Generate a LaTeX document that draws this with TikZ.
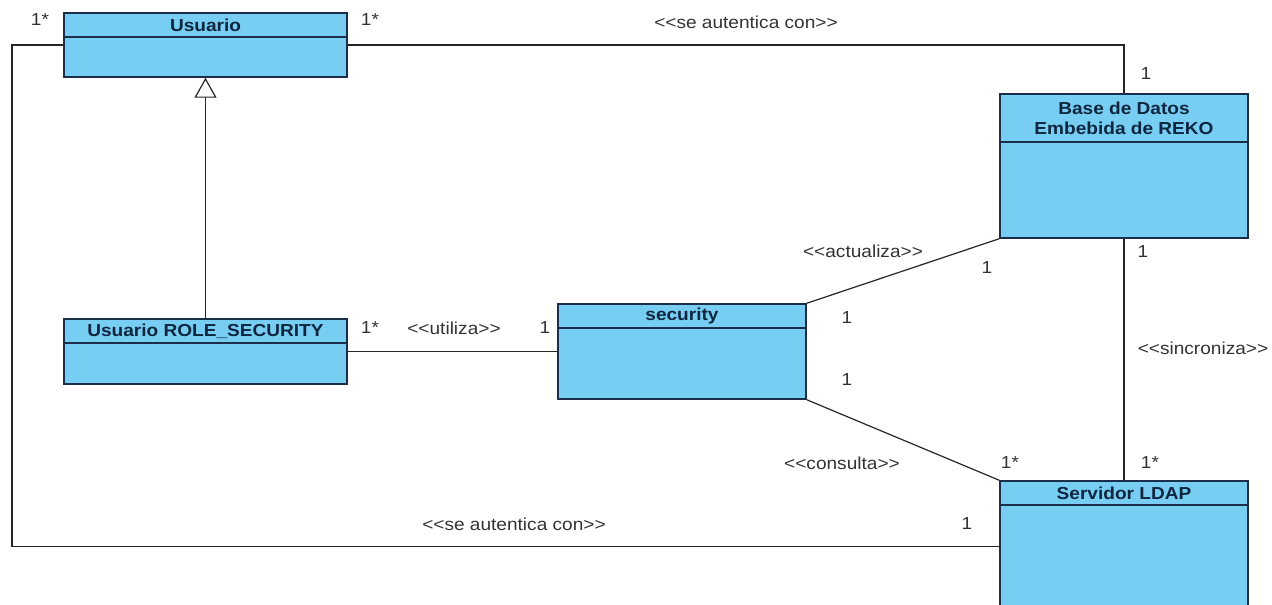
\documentclass[tikz,border=0pt]{standalone}
\usepackage{fontspec}
\setmainfont{Liberation Sans}[FakeStretch=1.1]
\usetikzlibrary{arrows.meta}

\definecolor{classfill}{HTML}{78CDF2}
\definecolor{classline}{HTML}{1C2F4A}
\definecolor{titletext}{HTML}{0E2640}
\definecolor{labeltext}{HTML}{333333}

\tikzset{
  classbox/.style={draw=classline, line width=1.1pt, fill=classfill, inner sep=0pt},
  classtitle/.style={font=\fontsize{13}{15}\selectfont\bfseries, text=titletext, align=center, inner sep=0pt},
  divider/.style={draw=classline, line width=1.1pt},
  assoc/.style={draw=black!85, line width=0.9pt},
  lbl/.style={font=\fontsize{13}{15}\selectfont, text=labeltext, inner sep=0pt},
}

% class box: name, x1, y1, x2, y2, y of divider, title
\newcommand\umlclass[7]{%
  \node[classbox, minimum width={(#4-#2)*0.75pt}, minimum height={(#5-#3)*0.75pt}]
    (#1) at ({(#2+#4)/2},{(#3+#5)/2}) {};
  \draw[divider] (#2,#6) -- (#4,#6);
  \node[classtitle] (#1-title) at ({(#2+#4)/2},{(#3+#6)/2}) {#7};
}

\begin{document}
\begin{tikzpicture}[x=0.75pt,y=-0.75pt]
  \useasboundingbox (0,0) rectangle (1272,605);
  \clip (0,0) rectangle (1272,605);

  % classes
  \umlclass{usuario}{64}{13}{347}{77}{37}{Usuario}
  \umlclass{role}{64}{319}{347}{384}{343}{Usuario ROLE\_SECURITY}
  \umlclass{security}{558}{304}{806}{399}{328}{security}
  \umlclass{bd}{1000}{94}{1248}{238}{142}{Base de Datos\\Embebida de REKO}
  \umlclass{ldap}{1000}{481}{1248}{612}{505}{Servidor LDAP}

  % connectors
  \coordinate (leftrail) at (12,300);
  \draw[assoc] (usuario.west) -| (leftrail) |- (ldap.west);
  \draw[assoc] (usuario.east) -| (bd.north);
  \draw[assoc] (role.east) -- (security.west);
  \draw[assoc] (security.north east) -- (bd.south west);
  \draw[assoc] (security.south east) -- (ldap.north west);
  \draw[assoc] (bd.south) -- (ldap.north);
  \draw[assoc, -{Triangle[open, length=15pt, width=16.5pt, fill=white]}]
    (role.north) -- (usuario.south);

  % multiplicities and stereotypes
  \node[lbl] (m1) at (40,20) {1*};
  \node[lbl] (m2) at (370,20) {1*};
  \node[lbl] (s1) at (746,22) {<{}<se autentica con>{}>};
  \node[lbl] (m3) at (1146,74) {1};
  \node[lbl] (s2) at (863,251) {<{}<actualiza>{}>};
  \node[lbl] (m4) at (987,268) {1};
  \node[lbl] (m5) at (1143,252) {1};
  \node[lbl] (m6) at (370,328) {1*};
  \node[lbl] (s3) at (454,328) {<{}<utiliza>{}>};
  \node[lbl] (m7) at (545,328) {1};
  \node[lbl] (m8) at (847,318) {1};
  \node[lbl] (m9) at (847,380) {1};
  \node[lbl] (s4) at (1203,348) {<{}<sincroniza>{}>};
  \node[lbl] (s5) at (842,463) {<{}<consulta>{}>};
  \node[lbl] (m10) at (1010,463) {1*};
  \node[lbl] (m11) at (1150,463) {1*};
  \node[lbl] (s6) at (514,524) {<{}<se autentica con>{}>};
  \node[lbl] (m12) at (967,524) {1};
\end{tikzpicture}
\end{document}
